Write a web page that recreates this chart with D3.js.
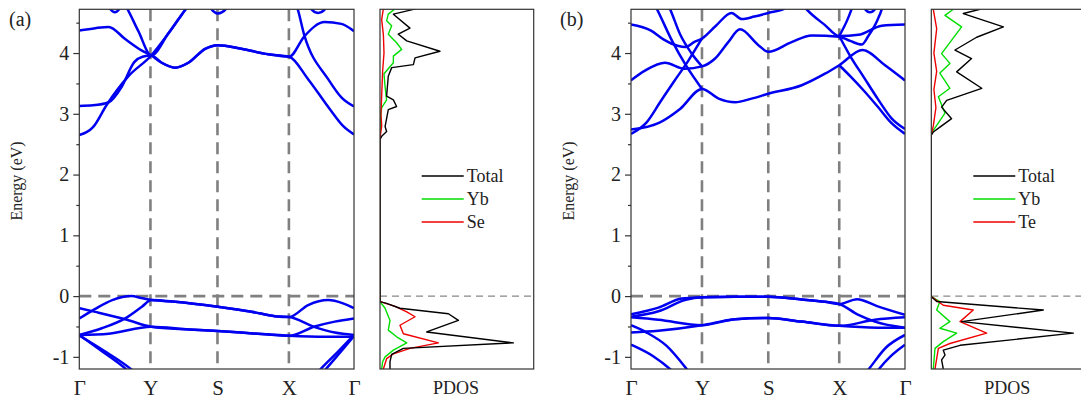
<!DOCTYPE html>
<html>
<head>
<meta charset="utf-8">
<script src="https://cdn.jsdelivr.net/npm/d3@7"></script>
<style>
  body { margin: 0; background: #fff; }
  svg { display: block; }
  text { font-family: "Liberation Serif", "Times New Roman", serif; fill: #222; }
</style>
</head>
<body>
<svg id="chart" width="1081" height="403"></svg>
<script>
'use strict'
/* ---------- Datos ---------- */
var kLabels = ['Γ', 'Y', 'S', 'X', 'Γ'];
var kTicksA = [0, 0.259, 0.503, 0.763, 1];
var kTicksB = [0, 0.259, 0.501, 0.76, 1];
var energyTicks = [-1, 0, 1, 2, 3, 4];
var energyMinor = [-0.5, 0.5, 1.5, 2.5, 3.5, 4.5];
var legendA = ['Total', 'Yb', 'Se'];
var legendB = ['Total', 'Yb', 'Te'];

/* Bandas (a): [k, E] */
var bandA1 = [[0,2.65],[0.05,2.78],[0.1,3.15],[0.179,3.62],[0.262,3.96],[0.324,4.32],[0.385,4.71],[0.44,5.05],[0.6,5.4],[0.74,5.05],[0.79,4.79],[0.82,4.28],[0.906,3.57],[0.954,3.27],[1,3.12]];
var bandA2 = [[0,3.13],[0.05,3.14],[0.107,3.19],[0.155,3.45],[0.2,3.85],[0.23,3.94],[0.262,3.96],[0.3,3.84],[0.349,3.76],[0.397,3.84],[0.458,4.07],[0.504,4.13],[0.59,4.07],[0.688,3.98],[0.764,3.94],[0.82,4.28],[0.893,4.51],[0.954,4.48],[1,4.36]];
var bandA3 = [[0,4.37],[0.058,4.41],[0.107,4.43],[0.167,4.23],[0.228,4.04],[0.262,3.96],[0.3,3.84],[0.349,3.76],[0.397,3.84],[0.458,4.07],[0.504,4.13],[0.59,4.07],[0.688,3.98],[0.764,3.94],[0.833,3.57],[0.913,3.07],[0.96,2.8],[1,2.66]];
var bandA4 = [[0,5.5],[0.1,5.1],[0.167,4.79],[0.215,4.36],[0.262,3.96],[0.324,4.32],[0.385,4.71],[0.44,5.05],[0.6,5.4],[1,5.6]];
var bandA5 = [[0.06,5.2],[0.1,4.8],[0.13,4.67],[0.158,4.8],[0.2,5.2]];
var bandA6 = [[0.43,5.2],[0.47,4.79],[0.504,4.65],[0.545,4.79],[0.58,5.2]];
var bandA7 = [[0.8,5.2],[0.835,4.78],[0.869,4.66],[0.905,4.78],[0.94,5.2]];
var bandA8 = [[0,-0.37],[0.058,-0.21],[0.12,-0.066],[0.19,0],[0.225,-0.03],[0.262,-0.066],[0.349,-0.093],[0.504,-0.175],[0.627,-0.257],[0.712,-0.33],[0.764,-0.345],[0.833,-0.148],[0.906,-0.066],[0.96,-0.12],[1,-0.2]];
var bandA9 = [[0,-0.2],[0.058,-0.26],[0.167,-0.38],[0.262,-0.504],[0.4,-0.55],[0.504,-0.575],[0.65,-0.62],[0.764,-0.652],[0.857,-0.5],[0.93,-0.42],[1,-0.367]];
var bandA10 = [[0,-0.64],[0.082,-0.53],[0.167,-0.367],[0.228,-0.175],[0.262,-0.066],[0.349,-0.093],[0.504,-0.175],[0.627,-0.257],[0.712,-0.33],[0.764,-0.345],[0.857,-0.51],[0.93,-0.6],[1,-0.64]];
var bandA11 = [[0,-0.64],[0.107,-0.62],[0.262,-0.504],[0.4,-0.55],[0.504,-0.575],[0.65,-0.62],[0.764,-0.652],[0.9,-0.668],[1,-0.668]];
var bandA12 = [[0,-0.64],[0.08,-0.9],[0.167,-1.19],[0.2,-1.32]];
var bandA13 = [[0,-0.65],[0.09,-0.9],[0.185,-1.19],[0.22,-1.32]];
var bandA14 = [[0.85,-1.35],[0.881,-1.19],[0.942,-0.915],[1,-0.64]];
var bandA15 = [[0.87,-1.35],[0.9,-1.19],[0.955,-0.9],[1,-0.66]];

/* Bandas (b): [k, E] */
var bandB1 = [[0,4.47],[0.073,4.37],[0.12,4.22],[0.17,4.12],[0.2,4.1],[0.23,4.18],[0.259,4.24],[0.31,4.45],[0.367,4.66],[0.404,4.56],[0.45,4.6],[0.501,4.66],[0.56,4.73],[0.6,4.95],[0.641,4.72],[0.708,4.46],[0.76,4.28],[0.83,4.3],[0.915,4.45],[1,4.47]];
var bandB2 = [[0,3.55],[0.051,3.71],[0.124,3.84],[0.197,3.74],[0.259,3.78],[0.307,3.91],[0.355,4.18],[0.398,4.39],[0.465,4.13],[0.501,4.02],[0.586,4.18],[0.66,4.29],[0.76,4.27],[0.8,4.2],[0.842,4.14],[0.866,4.28],[0.9,4.55],[0.915,4.72],[0.93,5.0]];
var bandB3 = [[0,2.74],[0.106,2.86],[0.179,3.08],[0.259,3.41],[0.32,3.25],[0.38,3.19],[0.44,3.25],[0.501,3.33],[0.623,3.47],[0.708,3.66],[0.76,3.8],[0.845,4.05],[0.927,3.8],[1,3.55]];
var bandB4 = [[0,2.67],[0.057,2.86],[0.106,3.19],[0.155,3.52],[0.21,3.88],[0.259,4.24]];
var bandB5 = [[0.05,5.1],[0.094,4.73],[0.15,4.2],[0.2,3.8],[0.259,3.41]];
var bandB6 = [[0.1,5.1],[0.142,4.73],[0.18,4.3],[0.22,4.0],[0.259,3.78]];
var bandB7 = [[0.76,4.28],[0.8,3.95],[0.85,3.6],[0.9,3.25],[0.95,2.93],[1,2.75]];
var bandB8 = [[0.76,3.8],[0.8,3.62],[0.85,3.38],[0.9,3.12],[0.95,2.85],[1,2.67]];
var bandB9 = [[0.76,4.28],[0.79,4.55],[0.81,4.78],[0.83,5.0]];
var bandB10 = [[0.83,5.0],[0.85,4.75],[0.872,4.67],[0.895,4.75],[0.915,5.0]];
var bandB11 = [[0,-0.3],[0.1,-0.19],[0.185,-0.04],[0.259,-0.02],[0.38,-0.01],[0.501,-0.01],[0.623,-0.055],[0.708,-0.094],[0.76,-0.13],[0.825,-0.05],[0.898,-0.165],[1,-0.31]];
var bandB12 = [[0,-0.34],[0.1,-0.25],[0.2,-0.06],[0.259,-0.02],[0.38,-0.01],[0.501,-0.01],[0.623,-0.055],[0.708,-0.094],[0.76,-0.13],[0.83,-0.31],[0.89,-0.42],[1,-0.52]];
var bandB13 = [[0,-0.35],[0.1,-0.39],[0.259,-0.48],[0.38,-0.38],[0.501,-0.36],[0.623,-0.42],[0.76,-0.49],[0.89,-0.39],[1,-0.35]];
var bandB14 = [[0,-0.6],[0.1,-0.57],[0.259,-0.48],[0.38,-0.38],[0.501,-0.36],[0.623,-0.42],[0.76,-0.49],[0.9,-0.52],[1,-0.52]];
var bandB15 = [[0,-0.48],[0.057,-0.6],[0.13,-0.82],[0.203,-1.2],[0.23,-1.36]];
var bandB16 = [[0,-0.8],[0.081,-0.99],[0.142,-1.2],[0.17,-1.32]];
var bandB17 = [[0.84,-1.35],[0.868,-1.2],[0.93,-0.85],[1,-0.64]];
var bandB18 = [[0.88,-1.35],[0.905,-1.2],[0.95,-0.98],[1,-0.8]];

var bandsA = [bandA1, bandA2, bandA3, bandA4, bandA5, bandA6, bandA7, bandA8, bandA9, bandA10, bandA11, bandA12, bandA13, bandA14, bandA15];
var bandsB = [bandB1, bandB2, bandB3, bandB4, bandB5, bandB6, bandB7, bandB8, bandB9, bandB10, bandB11, bandB12, bandB13, bandB14, bandB15, bandB16, bandB17, bandB18];

/* PDOS: [E, DOS] */
var dosTotalA = [[4.73,2.39],[4.64,0.87],[4.41,1.95],[4.31,1.19],[4.2,1.74],[4.03,3.9],[3.92,2.28],[3.81,2.17],[3.76,0.76],[3.62,0.54],[3.29,0.43],[3.23,0.87],[3.12,1.08],[3.07,0.54],[2.79,0.33],[2.71,0.43],[2.63,0.11],[2.58,0],[-0.09,0],[-0.12,0.43],[-0.2,1.3],[-0.29,4.45],[-0.4,5.1],[-0.59,3.04],[-0.77,8.68],[-0.86,1.52],[-0.96,0.76],[-1.08,0.65],[-1.2,0.65]];
var dosYbA = [[4.73,0.98],[4.64,0.54],[4.53,0.43],[4.45,0.76],[4.31,0.54],[4.17,1.08],[4.06,1.41],[3.95,0.87],[3.84,0.87],[3.66,0.26],[3.45,0.33],[3.23,0.43],[3.1,0.11],[2.96,0.04],[2.68,0],[-0.09,0],[-0.2,0.33],[-0.4,0.65],[-0.56,0.54],[-0.67,1.08],[-0.77,1.74],[-0.89,0.87],[-1.0,0.33],[-1.08,0.17],[-1.2,0.11]];
var dosSeA = [[4.73,0.22],[4.55,0.11],[4.3,0.22],[4.0,0.26],[3.7,0.17],[3.3,0.11],[3.0,0.06],[2.8,0.11],[2.6,0],[-0.09,0],[-0.17,0.98],[-0.26,1.74],[-0.34,2.28],[-0.48,1.3],[-0.62,1.52],[-0.77,3.8],[-0.86,1.95],[-0.95,0.87],[-1.03,0.43],[-1.2,0.22]];
var dosTotalB = [[4.72,3.17],[4.65,2.08],[4.43,4.69],[4.26,2.95],[4.05,1.54],[3.91,2.62],[3.69,1.65],[3.42,3.28],[3.22,1.0],[3.11,0.67],[2.92,1.32],[2.78,0.56],[2.7,0.13],[2.65,0],[-0.01,0],[-0.09,0.35],[-0.23,7.29],[-0.42,1.97],[-0.61,9.24],[-0.81,1.87],[-0.89,0.78],[-0.97,0.89],[-1.05,0.67],[-1.2,0.78]];
var dosYbB = [[4.72,1.43],[4.62,0.89],[4.43,1.97],[3.99,0.67],[3.83,1.21],[3.67,0.56],[3.42,1.21],[3.28,0.46],[3.01,0.89],[2.81,0.35],[2.68,0],[-0.01,0],[-0.09,0.56],[-0.23,0.35],[-0.42,1.21],[-0.53,0.56],[-0.61,1.65],[-0.75,0.78],[-0.86,0.24],[-1.2,0.13]];
var dosTeB = [[4.72,0.13],[4.4,0.35],[4.0,0.17],[3.7,0.35],[3.4,0.17],[3.1,0.3],[2.8,0.13],[2.65,0],[-0.01,0],[-0.15,0.78],[-0.23,2.73],[-0.42,1.87],[-0.61,3.6],[-0.78,1.21],[-0.86,0.46],[-1.2,0.24]];

/* ---------- Geometria ---------- */
var yTop = 9.3, yBottom = 369;
var eDomain = [-1.2, 4.72];
var dosDomain = [0, 10];
var colores = ['#000000', '#00dd00', '#ee0000'];

var svg = d3.select('#chart');
var yScale = d3.scaleLinear().domain(eDomain).range([yBottom, yTop]);

/* Panel de bandas */
function panelBandas(x0, x1, kTicks, bands, id){
	var xScale = d3.scaleLinear().domain([0, 1]).range([x0, x1]);
	var g = svg.append('g');

	g.append('clipPath').attr('id', id)
	 .append('rect')
	 .attr('x', x0).attr('y', yTop)
	 .attr('width', x1 - x0).attr('height', yBottom - yTop);

	// lineas de puntos de alta simetria
	g.selectAll('line.kv')
	 .data(kTicks.slice(1, -1))
	 .enter()
	 .append('line')
	 .attr('x1', (d)=>xScale(d)).attr('x2', (d)=>xScale(d))
	 .attr('y1', yTop).attr('y2', yBottom)
	 .attr('stroke', '#808080').attr('stroke-width', 2.6)
	 .attr('stroke-dasharray', '12,7');

	// nivel de Fermi
	g.append('line')
	 .attr('x1', x0).attr('x2', x1)
	 .attr('y1', yScale(0)).attr('y2', yScale(0))
	 .attr('stroke', '#808080').attr('stroke-width', 2.6)
	 .attr('stroke-dasharray', '12,7');

	var linea = d3.line()
				  .x((d)=>xScale(d[0]))
				  .y((d)=>yScale(d[1]))
				  .curve(d3.curveMonotoneX);

	g.append('g')
	 .attr('clip-path', 'url(#' + id + ')')
	 .selectAll('path')
	 .data(bands)
	 .enter()
	 .append('path')
	 .attr('d', linea)
	 .attr('fill', 'none')
	 .attr('stroke', '#0000f0')
	 .attr('stroke-width', 2.5)
	 .attr('stroke-linejoin', 'round');

	// marco
	g.append('rect')
	 .attr('x', x0).attr('y', yTop)
	 .attr('width', x1 - x0).attr('height', yBottom - yTop)
	 .attr('fill', 'none').attr('stroke', '#333').attr('stroke-width', 1.2);

	// eje y: marcas menores y mayores
	var yMinor = g.append('g').attr('transform', 'translate(' + x0 + ',0)')
				  .call(d3.axisLeft(yScale).tickValues(energyMinor).tickSize(3).tickFormat(''));
	var yAxis = g.append('g').attr('transform', 'translate(' + x0 + ',0)')
				 .call(d3.axisLeft(yScale).tickValues(energyTicks).tickSize(6).tickPadding(4)
				 .tickFormat((d)=>String(d)));
	[yMinor, yAxis].forEach((a)=>{
		a.select('.domain').remove();
		a.selectAll('line').attr('stroke', '#333').attr('stroke-width', 1.2);
	});
	yAxis.selectAll('text').style('font-size', '20px')
		 .style('font-family', '"Liberation Serif", serif').attr('fill', '#222');

	// eje x con etiquetas de k
	var xAxis = g.append('g').attr('transform', 'translate(0,' + yBottom + ')')
				 .call(d3.axisBottom(xScale).tickValues(kTicks).tickSize(0).tickPadding(11)
				 .tickFormat((d, i)=>kLabels[i]));
	xAxis.select('.domain').remove();
	xAxis.selectAll('text').style('font-size', '21px')
		 .style('font-family', '"Liberation Serif", serif').attr('fill', '#222');

	// titulo eje y
	g.append('text')
	 .attr('transform', 'translate(' + (x0 - 57) + ',' + 181 + ') rotate(-90)')
	 .attr('text-anchor', 'middle')
	 .style('font-size', '16px')
	 .text('Energy (eV)');
}

/* Panel PDOS */
function panelDos(x0, x1, series, nombres, id, legX){
	var xScale = d3.scaleLinear().domain(dosDomain).range([x0, x1]);
	var g = svg.append('g');

	g.append('clipPath').attr('id', id)
	 .append('rect')
	 .attr('x', x0).attr('y', yTop)
	 .attr('width', x1 - x0).attr('height', yBottom - yTop);

	g.append('line')
	 .attr('x1', x0).attr('x2', x1)
	 .attr('y1', yScale(0)).attr('y2', yScale(0))
	 .attr('stroke', '#888').attr('stroke-width', 1.4)
	 .attr('stroke-dasharray', '7,5');

	var linea = d3.line()
				  .x((d)=>xScale(d[1]))
				  .y((d)=>yScale(d[0]));

	// se dibuja Yb, Se/Te y al final Total encima
	var orden = [1, 2, 0];
	g.append('g')
	 .attr('clip-path', 'url(#' + id + ')')
	 .selectAll('path')
	 .data(orden)
	 .enter()
	 .append('path')
	 .attr('d', (i)=>linea(series[i]))
	 .attr('fill', 'none')
	 .attr('stroke', (i)=>colores[i])
	 .attr('stroke-width', 1.4)
	 .attr('stroke-linejoin', 'round');

	g.append('rect')
	 .attr('x', x0).attr('y', yTop)
	 .attr('width', x1 - x0).attr('height', yBottom - yTop)
	 .attr('fill', 'none').attr('stroke', '#333').attr('stroke-width', 1.2);

	g.append('text')
	 .attr('x', x0 + 76).attr('y', 394)
	 .attr('text-anchor', 'middle')
	 .style('font-size', '18px')
	 .text('PDOS');

	// leyenda
	var ley = g.selectAll('g.ley')
			   .data(nombres)
			   .enter()
			   .append('g')
			   .attr('transform', (d, i)=>'translate(' + legX + ',' + (176 + i * 23) + ')');
	ley.append('line')
	   .attr('x1', 0).attr('x2', 42)
	   .attr('stroke', (d, i)=>colores[i]).attr('stroke-width', 1.6);
	ley.append('text')
	   .attr('x', 45).attr('y', 6)
	   .style('font-size', '18px')
	   .text((d)=>d);
}

panelBandas(79.3, 354, kTicksA, bandsA, 'clipA');
panelDos(380, 533.7, [dosTotalA, dosYbA, dosSeA], legendA, 'clipDA', 421.7);
panelBandas(631, 905, kTicksB, bandsB, 'clipB');
panelDos(931.3, 1085, [dosTotalB, dosYbB, dosTeB], legendB, 'clipDB', 973.3);

// etiquetas de panel
svg.append('text').attr('x', 9).attr('y', 26).style('font-size', '20px').text('(a)');
svg.append('text').attr('x', 560).attr('y', 26).style('font-size', '20px').text('(b)');
</script>
</body>
</html>
